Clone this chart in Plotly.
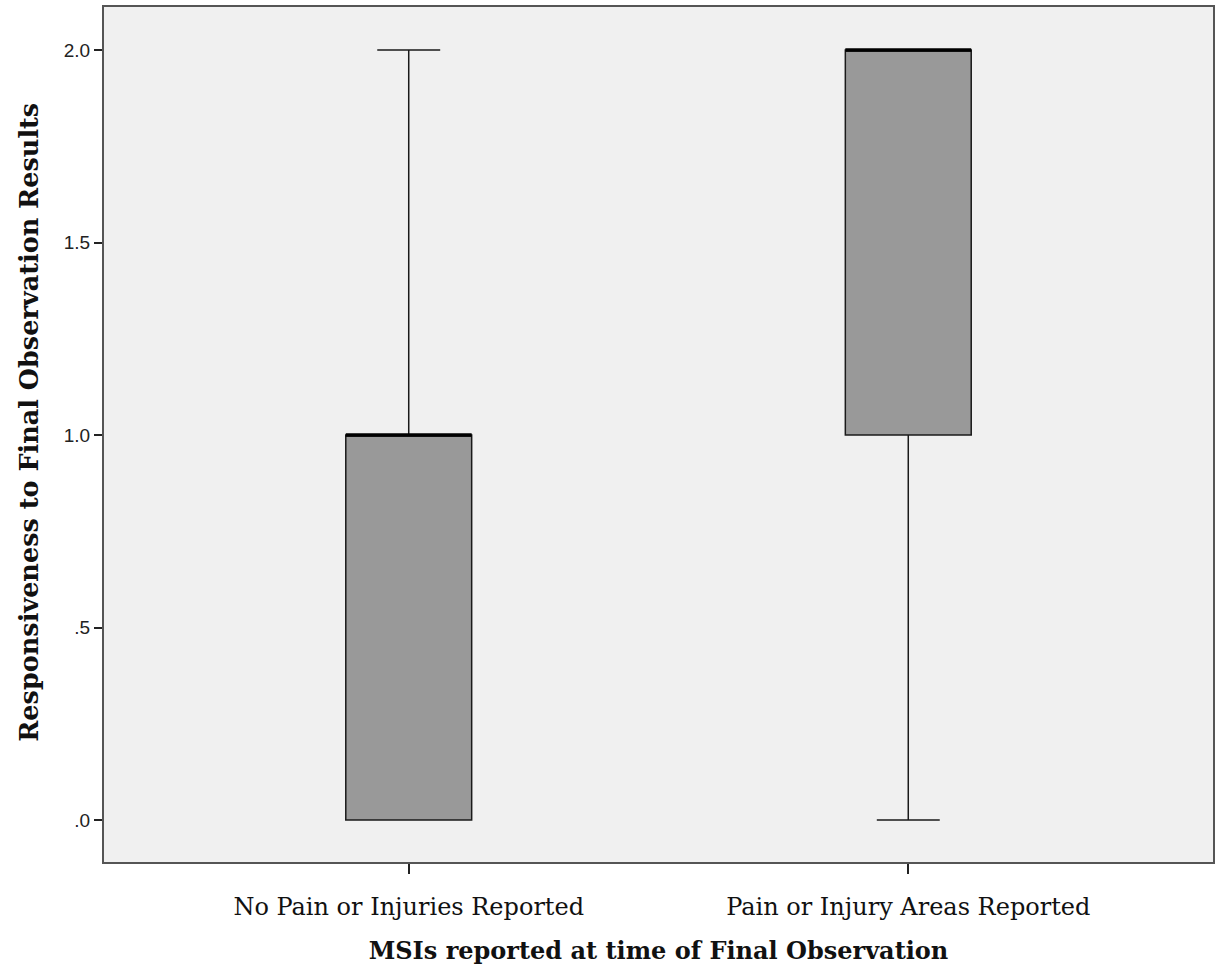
import plotly.graph_objects as go

categories = ["No Pain or Injuries Reported", "Pain or Injury Areas Reported"]
q1 = [0.0, 1.0]
medians = [1.0, 2.0]
q3 = [1.0, 2.0]
lower = [0.0, 0.0]
upper = [2.0, 2.0]
ytick_vals = [0.0, 0.5, 1.0, 1.5, 2.0]
ytick_text = [".0", ".5", "1.0", "1.5", "2.0"]

box_width = 0.252

fig = go.Figure()
for i, cat in enumerate(categories):
    fig.add_trace(go.Box(
        x=[i],
        q1=[q1[i]], median=[medians[i]], q3=[q3[i]],
        lowerfence=[lower[i]], upperfence=[upper[i]],
        width=box_width,
        whiskerwidth=0.5,
        fillcolor="#999999",
        line=dict(color="#1a1a1a", width=1.5),
        boxpoints=False,
        showlegend=False,
        hoverinfo="skip",
    ))
    fig.add_shape(type="line", xref="x", yref="y",
                  x0=i - box_width / 2, x1=i + box_width / 2,
                  y0=medians[i], y1=medians[i],
                  line=dict(color="black", width=3.5))

serif = "DejaVu Serif, serif"
fig.update_layout(
    width=1219, height=974,
    margin=dict(l=104, r=4, t=7, b=112),
    plot_bgcolor="#f0f0f0",
    paper_bgcolor="white",
    showlegend=False,
    xaxis=dict(
        range=[-0.61, 1.61],
        tickvals=[0, 1], ticktext=categories,
        ticks="outside", ticklen=10, tickwidth=1.5, tickcolor="#222222",
        ticklabelstandoff=12,
        showline=True, linecolor="#555555", linewidth=2, mirror=True,
        showgrid=False, zeroline=False,
        tickfont=dict(family=serif, size=24, color="#111111"),
        title=dict(text="<b>MSIs reported at time of Final Observation</b>",
                   font=dict(family=serif, size=24, color="#111111"), standoff=22),
    ),
    yaxis=dict(
        range=[-0.109, 2.112],
        tickvals=ytick_vals, ticktext=ytick_text,
        ticks="outside", ticklen=8, tickwidth=1.5, tickcolor="#222222",
        showline=True, linecolor="#555555", linewidth=2, mirror=True,
        showgrid=False, zeroline=False,
        tickfont=dict(family="Liberation Sans, Arial, sans-serif", size=19, color="#222222"),
        title=dict(text="&nbsp;&nbsp;&nbsp;<b>Responsiveness to Final Observation Results</b>",
                   font=dict(family=serif, size=25.5, color="#111111"), standoff=18),
    ),
)

fig.write_html("out.html", config={"displayModeBar": False},
               post_script="document.body.style.margin='0';")
